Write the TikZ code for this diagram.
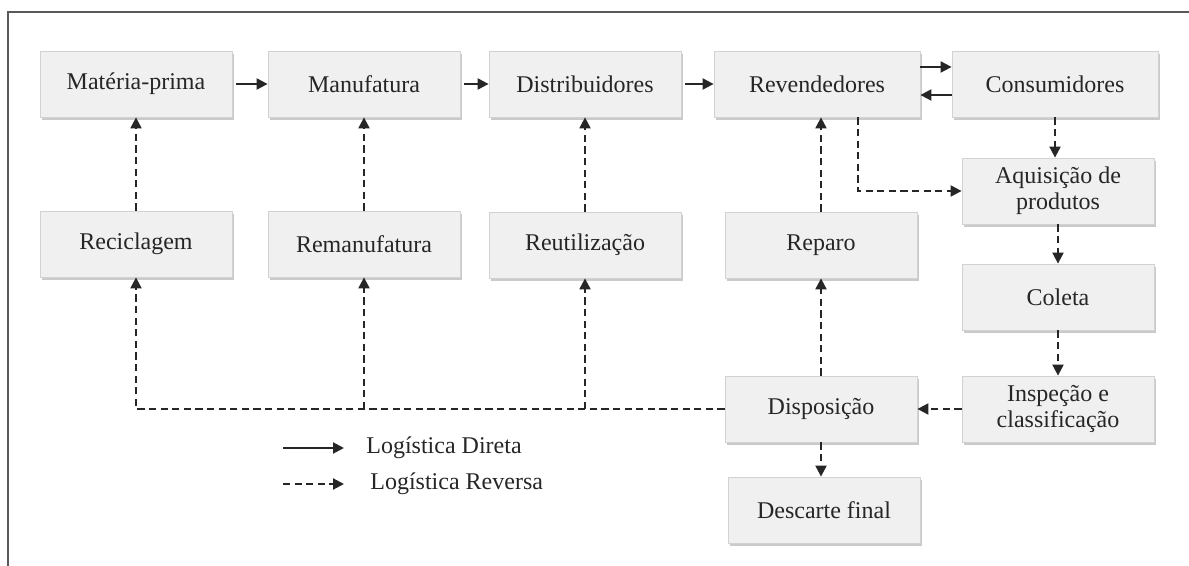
\documentclass[tikz,border=0pt]{standalone}
\usepackage{fontspec}
\setmainfont{Liberation Serif}
\usetikzlibrary{arrows.meta,shadows}
\tikzset{
        box/.style={rectangle, draw=gray!35, fill=gray!12, text=black!85, minimum width=96pt, minimum height=33pt, inner sep=2pt, align=center, font=\fontsize{12}{13}\selectfont,
          drop shadow={shadow xshift=0.8pt, shadow yshift=-1.4pt, fill=gray!70, opacity=0.6}},
        widebox/.style={box, minimum width=103pt},
        dir/.style={line width=1pt, draw=black!85, -{Triangle[length=5.5pt, width=5.5pt]}},
        rev/.style={dir, dash pattern=on 3.6pt off 2.2pt},
        legend/.style={anchor=west, inner sep=0pt, text=black!85, font=\fontsize{12}{13}\selectfont},
        frame/.style={draw=black!65, line width=1pt}
          }
\begin{document}
\begin{tikzpicture}[x=0.5pt, y=-0.5pt]
        \useasboundingbox (0,0) rectangle (1189,566);
        \draw[frame] (8,566) -- (8,12) -- (1189,12);
        \node[box] (mat) at (136,84) {Matéria-prima};
        \node[box] (manuf) at (364,84) {Manufatura};
        \node[box] (distr) at (585,84) {Distribuidores};
        \node[widebox] (reven) at (817,84) {Revendedores};
        \node[widebox] (consum) at (1055,84) {Consumidores};
        \node[box] (recic) at (136,244) {Reciclagem};
        \node[box] (reman) at (364,244) {Remanufatura};
        \node[box] (reut) at (585,245) {Reutilização};
        \node[box] (reparo) at (821,245) {Reparo};
        \node[box] (aquis) at (1058,191) {Aquisição de\\produtos};
        \node[box] (coleta) at (1058,297) {Coleta};
        \node[box] (insp) at (1058,409) {Inspeção e\\classificação};
        \node[box] (disp) at (821,409) {Disposição};
        \node[box] (desc) at (824,510) {Descarte final};
        \draw[dir] ([xshift=2pt]mat.east) -- (manuf.west);
        \draw[dir] ([xshift=2pt]manuf.east) -- (distr.west);
        \draw[dir] ([xshift=2pt]distr.east) -- (reven.west);
        \draw[dir] ([yshift=8.5pt]reven.east) -- ([yshift=8.5pt]consum.west);
        \draw[dir] ([yshift=-5.5pt]consum.west) -- ([yshift=-5.5pt]reven.east);
        \draw[rev] (recic.north) -- (mat.south);
        \draw[rev] (reman.north) -- (manuf.south);
        \draw[rev] (reut.north) -- (distr.south);
        \draw[rev] (reparo.north) -- (reparo.north |- reven.south);
        \draw[rev] ([xshift=20.5pt]reven.south) |- (aquis.west);
        \draw[rev] (consum.south) -- (consum.south |- aquis.north);
        \draw[rev] (aquis.south) -- (coleta.north);
        \draw[rev] (coleta.south) -- (insp.north);
        \draw[rev] (insp.west) -- (disp.east);
        \draw[rev] (disp.north) -- (reparo.south);
        \draw[rev] (disp.south) -- (disp.south |- desc.north);
        \draw[rev] (disp.west) -| (recic.south);
        \draw[rev] (disp.west -| reman.south) -- (reman.south);
        \draw[rev] (disp.west -| reut.south) -- (reut.south);
        \coordinate (ldir-a) at (283,448);
        \coordinate (ldir-b) at (344,448);
        \coordinate (lrev-a) at (283,484);
        \coordinate (lrev-b) at (344,484);
        \node[legend] (ldir) at (366,448) {Logística Direta};
        \node[legend] (lrev) at (370,484) {Logística Reversa};
        \draw[dir] (ldir-a) -- (ldir-b);
        \draw[rev] (lrev-a) -- (lrev-b);
      \end{tikzpicture}
\end{document}
